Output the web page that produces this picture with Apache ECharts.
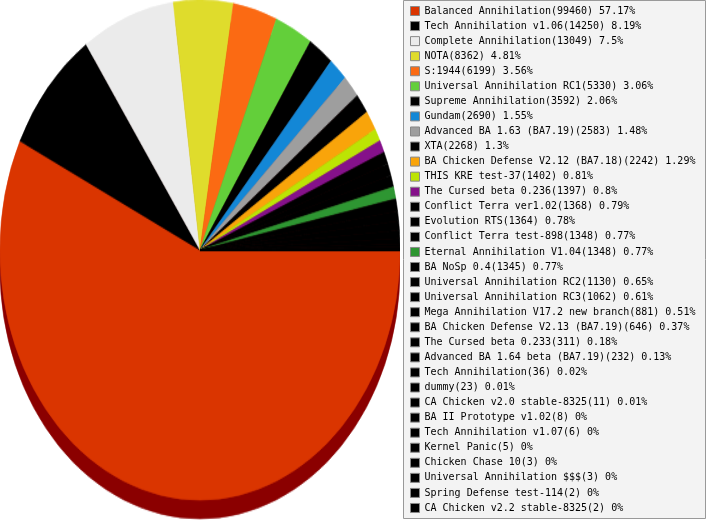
<!DOCTYPE html>
<html>
<head>
<meta charset="utf-8">
<script src="https://cdn.jsdelivr.net/npm/echarts@6/dist/echarts.min.js"></script>
<style>
html,body{margin:0;padding:0;background:#fff;}
#wrap{position:relative;width:707px;height:520px;overflow:hidden;}
#pie{position:absolute;left:0;top:0;width:400px;height:420px;transform:scaleY(1.25);transform-origin:0 0;}
#leg{position:absolute;left:0;top:0;width:707px;height:520px;}
</style>
</head>
<body>
<div id="wrap"><div id="pie"></div><div id="leg"></div></div>
<script>
const names = [
  'Balanced Annihilation','Tech Annihilation v1.06','Complete Annihilation','NOTA','S:1944',
  'Universal Annihilation RC1','Supreme Annihilation','Gundam','Advanced BA 1.63 (BA7.19)','XTA',
  'BA Chicken Defense V2.12 (BA7.18)','THIS KRE test-37','The Cursed beta 0.236','Conflict Terra ver1.02','Evolution RTS',
  'Conflict Terra test-898','Eternal Annihilation V1.04','BA NoSp 0.4','Universal Annihilation RC2','Universal Annihilation RC3',
  'Mega Annihilation V17.2 new branch','BA Chicken Defense V2.13 (BA7.19)','The Cursed beta 0.233','Advanced BA 1.64 beta (BA7.19)','Tech Annihilation',
  'dummy','CA Chicken v2.0 stable-8325','BA II Prototype v1.02','Tech Annihilation v1.07','Kernel Panic',
  'Chicken Chase 10','Universal Annihilation $$$','Spring Defense test-114','CA Chicken v2.2 stable-8325'
];
const values = [
  99460,14250,13049,8362,6199,
  5330,3592,2690,2583,2268,
  2242,1402,1397,1368,1364,
  1348,1348,1345,1130,1062,
  881,646,311,232,36,
  23,11,8,6,5,
  3,3,2,2
];
const colors = [
  '#DA3500','#000000','#EBEBEB','#DFDC2C','#FB6A13',
  '#63CF3A','#000000','#1387D6','#9E9E9E','#000000',
  '#F9A40A','#BCE404','#85118A','#000000','#000000',
  '#000000','#2E9632','#000000','#000000','#000000',
  '#000000','#000000','#000000','#000000','#000000',
  '#000000','#000000','#000000','#000000','#000000',
  '#000000','#000000','#000000','#000000'
];
const depthColor = '#8B0000';

const total = values.reduce((a,b)=>a+b,0);
const data = names.map((n,i)=>({name:n,value:values[i],itemStyle:{color:colors[i],borderColor:colors[i],borderWidth:0.6}}));
const legData = names.map((n,i)=>({name:n,value:values[i],itemStyle:{color:colors[i]}}));
const depthData = names.map((n,i)=>({name:n,value:values[i],itemStyle:{color:depthColor,borderColor:depthColor,borderWidth:0.6}}));

const pieChart = echarts.init(document.getElementById('pie'), null, {renderer:'canvas'});
pieChart.setOption({
  animation:false,
  series:[
    {type:'pie',silent:true,startAngle:0,clockwise:true,center:[200,215],radius:[0,200],
     label:{show:false},labelLine:{show:false},data:depthData,z:1},
    {type:'pie',silent:true,startAngle:0,clockwise:true,center:[200,200],radius:[0,200],
     label:{show:false},labelLine:{show:false},data:data,z:2}
  ]
});

const legChart = echarts.init(document.getElementById('leg'), null, {renderer:'canvas'});
legChart.setOption({
  animation:false,
  graphic:[{type:'rect',z:-10,shape:{x:403.5,y:0.5,width:302,height:518},style:{fill:'#f3f3f3',stroke:'#999',lineWidth:1}}],
  legend:{
    orient:'vertical',left:410,top:6,padding:0,itemGap:5.06,itemWidth:9,itemHeight:9,icon:'rect',
    selectedMode:false,
    itemStyle:{borderColor:'#888',borderWidth:1},
    textStyle:{fontFamily:'DejaVu Sans Mono',fontSize:10,color:'#000'},
    formatter:function(name){
      const i = names.indexOf(name);
      const pct = Number((values[i]/total*100).toFixed(2));
      return name + '(' + values[i] + ') ' + pct + '%';
    },
    data:names
  },
  series:[{type:'pie',silent:true,center:[200,250],radius:[0,0],label:{show:false},labelLine:{show:false},data:legData}]
});
</script>
</body>
</html>
